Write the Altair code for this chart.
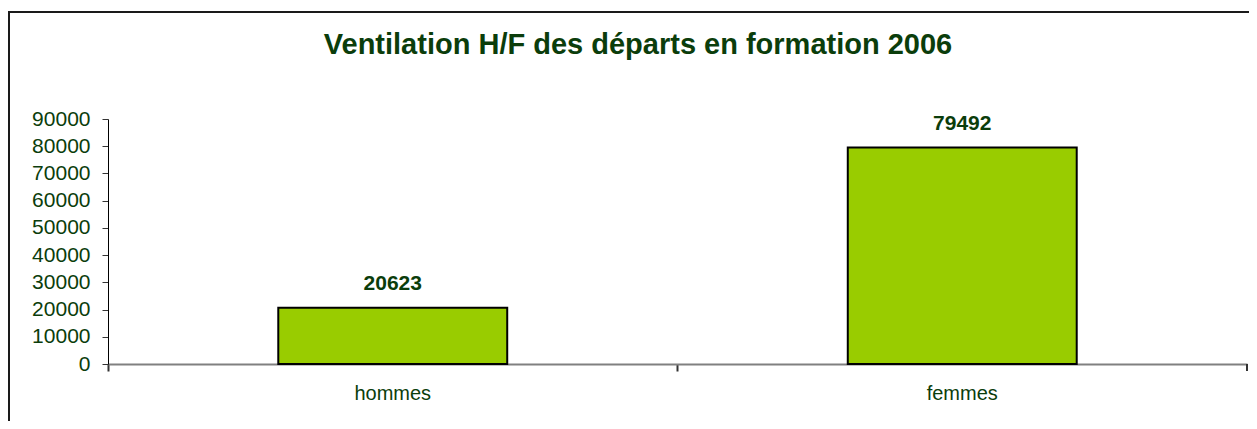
import altair as alt
import pandas as pd

categories = ["hommes", "femmes"]
values = [20623, 79492]
y_ticks = [0, 10000, 20000, 30000, 40000, 50000, 60000, 70000, 80000, 90000]
title_text = "Ventilation H/F des départs en formation 2006"

df = pd.DataFrame({"cat": categories, "val": values})
one = pd.DataFrame({"k": [0]})

FONT = "Liberation Sans"
GREEN_TXT = "#0b3d0b"
W, H = 1139, 245

xenc = alt.X(
    "cat:N",
    sort=categories,
    title=None,
    scale=alt.Scale(paddingInner=0, paddingOuter=0),
    axis=alt.Axis(
        bandPosition=0,
        labelAngle=0,
        labelFont=FONT,
        labelFontSize=20,
        labelColor=GREEN_TXT,
        labelPadding=12,
        tickSize=7,
        tickColor="#333333",
        tickWidth=2,
        domainColor="#808080",
        domainWidth=2,
        grid=False,
    ),
)
yenc = alt.Y(
    "val:Q",
    title=None,
    scale=alt.Scale(domain=[0, 90000], nice=False),
    axis=alt.Axis(
        values=y_ticks,
        format="d",
        labelOverlap=False,
        labelFont=FONT,
        labelFontSize=21,
        labelColor=GREEN_TXT,
        labelPadding=12,
        tickSize=6,
        tickColor="#333333",
        domainColor="#000000",
        domainWidth=1,
        grid=False,
    ),
)

base = alt.Chart(df)
bars = base.mark_bar(
    fill="#99CC00", stroke="#000000", strokeWidth=2, width=alt.RelativeBandSize(0.402)
).encode(x=xenc, y=yenc)
labels = base.mark_text(
    font=FONT, fontSize=21, fontWeight="bold", color=GREEN_TXT, baseline="alphabetic", dy=-18
).encode(x=xenc, y=yenc, text=alt.Text("val:Q", format="d"))

frame = alt.Chart(one).mark_rect(fill="transparent", stroke="#1a1a1a", strokeWidth=2).encode(
    x=alt.value(-99), x2=alt.value(1400), y=alt.value(-107), y2=alt.value(600)
)
title = alt.Chart(one).mark_text(
    font=FONT, fontSize=29, fontWeight="bold", color=GREEN_TXT, baseline="alphabetic", align="center"
).encode(x=alt.value(530), y=alt.value(-65), text=alt.value(title_text))
end_tick = alt.Chart(one).mark_rule(color="#333333", strokeWidth=2).encode(
    x=alt.value(W), y=alt.value(H), y2=alt.value(H + 7)
)

chart = alt.layer(frame, bars, labels, title, end_tick).properties(
    width=W,
    height=H,
    autosize=alt.AutoSizeParams(type="none"),
    padding={"left": 100, "top": 111, "right": 2, "bottom": 57},
    background="white",
).configure_view(stroke=None)

chart.save("out.html", embed_options={"renderer": "svg", "actions": False})
